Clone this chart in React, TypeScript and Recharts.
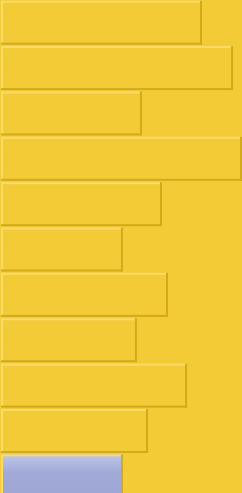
import { Bar, BarChart, Cell, XAxis, YAxis } from "recharts";

const categories = ["1", "2", "3", "4", "5", "6", "7", "8", "9", "10", "11"];
const values = [83.4, 96.3, 58.5, 100, 66.8, 50.6, 69.3, 56.4, 77.2, 61.0, 50.6];
const highlighted = [false, false, false, false, false, false, false, false, false, false, true];

const rows = categories.map((name, i) => ({ name, value: values[i], hi: highlighted[i] }));

const LIGHT = "#F8DB68";
const DARK = "#D3AA1C";

const BevelBar = (props: any) => {
    const { x, y, width, height, payload } = props;
    if (!width || !height) return null;
    const fill = payload.hi ? "url(#blueFill)" : "#F2CB37";
    return (
        <g>
            <rect x={x} y={y} width={width} height={height} fill={fill} />
            <rect x={x} y={y} width={width} height={2} fill={LIGHT} />
            <rect x={x} y={y} width={2} height={height} fill={LIGHT} />
            <rect x={x} y={y + height - 2} width={width} height={2} fill={DARK} />
            <rect x={x + width - 2} y={y} width={2} height={height} fill={DARK} />
        </g>
    );
};

const App = () => {
    return (
        <div style={{ position: "fixed", top: 0, left: 0, width: 242, height: 493, overflow: "hidden", background: "#F2CB37" }}>
            <BarChart width={242} height={499} data={rows} layout="vertical" barCategoryGap={0.7}
                margin={{ top: 0, right: 0, bottom: 0, left: 1 }}>
                <defs>
                    <linearGradient id="blueFill" x1="0" y1="0" x2="0" y2="1">
                        <stop offset="0" stopColor="#BFC7EA" />
                        <stop offset="0.4" stopColor="#A2AAD8" />
                        <stop offset="1" stopColor="#9EA6D4" />
                    </linearGradient>
                </defs>
                <XAxis type="number" domain={[0, 100]} hide />
                <YAxis type="category" dataKey="name" hide />
                <Bar dataKey="value" shape={BevelBar} isAnimationActive={false}>
                    {rows.map((r) => <Cell key={r.name} />)}
                </Bar>
            </BarChart>
        </div>
    );
};

export default App;
